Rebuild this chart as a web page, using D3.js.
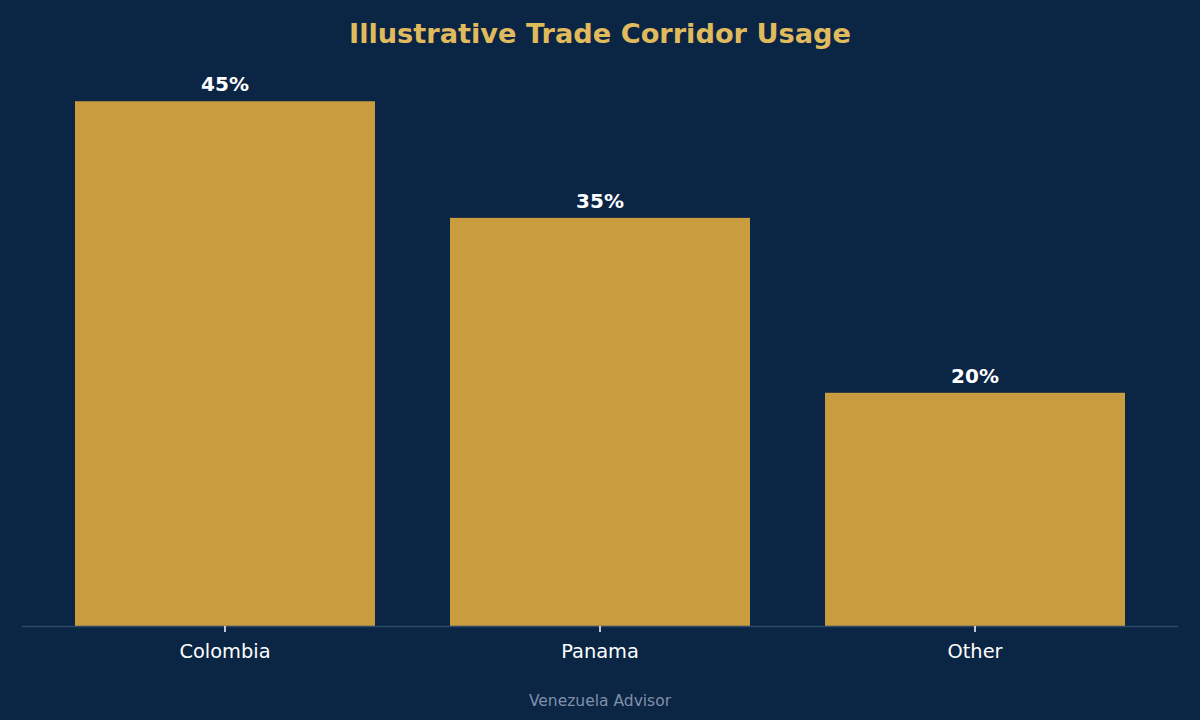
<!DOCTYPE html>
<html>
<head>
<meta charset="utf-8">
<script src="https://cdn.jsdelivr.net/npm/d3@7"></script>
<style>
  html, body { margin: 0; padding: 0; background: #0b2545; }
  svg { display: block; font-family: "DejaVu Sans", sans-serif; }
</style>
</head>
<body>
<div id="vis"></div>
<script>
// chart data
const corridors = ["Colombia", "Panama", "Other"];
const usageShare = [45, 35, 20];
const chartTitle = "Illustrative Trade Corridor Usage";
const footerText = "Venezuela Advisor";

const width = 1200;
const height = 720;

// plot area (matplotlib-like margins)
const plot = { left: 22, right: 1178, top: 75, bottom: 626 };

const svg = d3.select('#vis')
  .append('svg')
  .attr('width', width)
  .attr('height', height);

svg.append('rect')
  .attr('width', width)
  .attr('height', height)
  .attr('fill', '#0b2545');

// band scale: bar width is 0.8 of step, 0.14 step margin on each side
const x = d3.scaleBand()
  .domain(corridors)
  .range([plot.left, plot.right])
  .paddingInner(0.2)
  .paddingOuter(0.1413);

const y = d3.scaleLinear()
  .domain([0, d3.max(usageShare) * 1.05])
  .range([plot.bottom, plot.top]);

const rows = corridors.map((c, i) => ({ name: c, value: usageShare[i] }));

// bars
svg.selectAll('.bar')
  .data(rows)
  .enter()
  .append('rect')
  .classed('bar', true)
  .attr('x', d => x(d.name))
  .attr('y', d => y(d.value))
  .attr('width', x.bandwidth())
  .attr('height', d => y(0) - y(d.value))
  .attr('fill', '#c89c3f');

// value labels
svg.selectAll('.value')
  .data(rows)
  .enter()
  .append('text')
  .classed('value', true)
  .attr('x', d => x(d.name) + x.bandwidth() / 2)
  .attr('y', d => y(d.value) - 10)
  .attr('text-anchor', 'middle')
  .attr('fill', '#ffffff')
  .style('font-size', '20px')
  .style('font-weight', 'bold')
  .text(d => d.value + '%');

// x axis
const xAxis = svg.append('g')
  .attr('transform', `translate(0,${plot.bottom})`)
  .call(d3.axisBottom(x).tickSize(6).tickPadding(12));

xAxis.select('.domain')
  .attr('stroke', '#2f4a69')
  .attr('stroke-width', 1.5)
  .attr('d', `M${plot.left},0.5H${plot.right}`);

xAxis.selectAll('.tick line')
  .attr('stroke', '#ffffff')
  .attr('stroke-width', 1.5);

xAxis.selectAll('.tick text')
  .attr('fill', '#ffffff')
  .style('font-family', '"DejaVu Sans", sans-serif')
  .style('font-size', '19.4px');

// title
svg.append('text')
  .attr('x', width / 2)
  .attr('y', 43)
  .attr('text-anchor', 'middle')
  .attr('fill', '#e0bb5e')
  .style('font-size', '27.2px')
  .style('font-weight', 'bold')
  .text(chartTitle);

// footer
svg.append('text')
  .attr('x', width / 2)
  .attr('y', 706)
  .attr('text-anchor', 'middle')
  .attr('fill', '#8090a8')
  .style('font-size', '15.5px')
  .text(footerText);
</script>
</body>
</html>
